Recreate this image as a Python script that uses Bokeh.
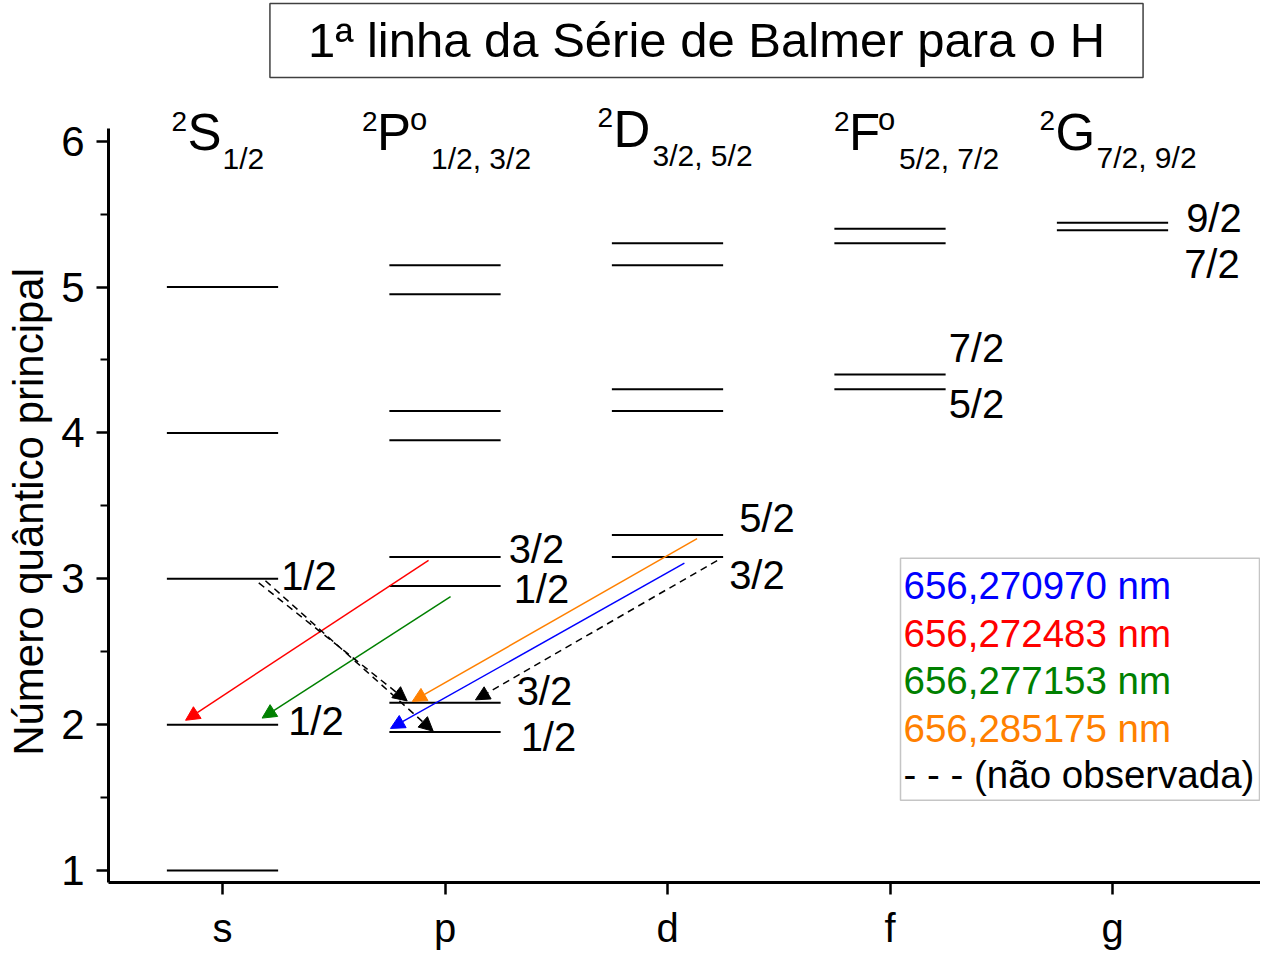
import math
from bokeh.plotting import figure
from bokeh.layouts import row
from bokeh.models import (Range1d, FixedTicker, ColumnDataSource, Arrow, NormalHead,
                          Label, BoxAnnotation)
from bokeh.core.properties import value
from bokeh.embed import file_html
from bokeh.resources import INLINE

FONT = "Liberation Sans"

# ---------------- data ----------------
title_text = "1ª linha da Série de Balmer para o H"
y_label = "Número quântico principal"
categories = ["s", "p", "d", "f", "g"]
y_ticks = [1, 2, 3, 4, 5, 6]
y_minor_ticks = [1.5, 2.5, 3.5, 4.5, 5.5]

# energy levels (position on the principal-quantum-number axis) per column
s_levels = [1.00, 2.00, 3.00, 4.00, 5.00]
p_levels = [1.95, 2.15, 2.95, 3.15, 3.95, 4.15, 4.95, 5.15]
d_levels = [3.15, 3.30, 4.15, 4.30, 5.15, 5.30]
f_levels = [4.30, 4.40, 5.30, 5.40]
g_levels = [5.39, 5.44]
levels = {"s": s_levels, "p": p_levels, "d": d_levels, "f": f_levels, "g": g_levels}

# term symbols at the top of every column
term_mult = ["2", "2", "2", "2", "2"]
term_letter = ["S", "P", "D", "F", "G"]
term_parity = ["", "o", "", "o", ""]
term_j = ["1/2", "1/2, 3/2", "3/2, 5/2", "5/2, 7/2", "7/2, 9/2"]

# J labels next to levels
j_col = ["s", "s", "p", "p", "p", "p", "d", "d", "f", "f", "g", "g"]
j_level = [3.00, 2.00, 3.15, 2.95, 2.15, 1.95, 3.30, 3.15, 4.40, 4.30, 5.44, 5.39]
j_text = ["1/2", "1/2", "3/2", "1/2", "3/2", "1/2", "5/2", "3/2", "7/2", "5/2", "9/2", "7/2"]

# transitions (x in column units, y in n units)
blue_arrow = dict(x0=[3.076], y0=[3.107], x1=[1.755], y1=[1.974])
red_arrow = dict(x0=[1.926], y0=[3.127], x1=[0.834], y1=[2.030])
green_arrow = dict(x0=[2.025], y0=[2.877], x1=[1.178], y1=[2.045])
orange_arrow = dict(x0=[3.133], y0=[3.276], x1=[1.853], y1=[2.159])
dashed_arrows = dict(x0=[3.223, 1.163, 1.193], y0=[3.125, 2.972, 2.987],
                     x1=[2.137, 1.830, 1.947], y1=[2.170, 2.163, 1.955])

legend_labels = ["656,270970 nm", "656,272483 nm", "656,277153 nm",
                 "656,285175 nm", "- - - (não observada)"]
BLUE, RED, GREEN, ORANGE, BLACK = "#0000FF", "#FF0000", "#008000", "#FF8000", "#000000"
legend_colors = [BLUE, RED, GREEN, ORANGE, BLACK]

# ---------------- layout ----------------
W, H = 1260, 952
LW = 56                          # width of the strip that holds the y-axis title
ML, MB = 108, 68                 # frame left (page px) and bottom border
SX, SY = 222.5, 146.2            # px per unit
X1_PX, Y6_PX = 222, 141          # where x=1 and y=6 sit
x_start = 1 - (X1_PX - ML) / SX
x_end = x_start + (W - ML) / SX
y_end = 6 + Y6_PX / SY
y_start = y_end - (H - MB) / SY
K = SY / 147.6


def px(fx):
    return x_start + (fx - ML) / SX


def fig_y(ref_y):
    return Y6_PX + (ref_y - 143) * K


def py(ref_y):
    return y_end - fig_y(ref_y) / SY


# ---- y-axis title strip ----
lab = figure(width=LW, height=H, x_range=Range1d(0, LW), y_range=Range1d(0, H),
             output_backend="svg", toolbar_location=None,
             x_axis_location=None, y_axis_location=None,
             min_border_left=0, min_border_right=0, min_border_top=0, min_border_bottom=0)
lab.outline_line_color = None
lab.grid.visible = False
lab.text(x=[28], y=[400], text=[y_label], angle=[math.pi / 2],
         text_font=value(FONT), text_font_size="42px", text_color="black",
         text_align="center", text_baseline="middle")

# ---- main plot ----
p = figure(width=W - LW, height=H, x_range=Range1d(x_start, x_end), y_range=Range1d(y_start, y_end),
           output_backend="svg", toolbar_location=None,
           min_border_left=ML - LW, min_border_right=0, min_border_top=0, min_border_bottom=MB)
p.outline_line_color = None
p.xgrid.visible = False
p.ygrid.visible = False
p.background_fill_color = "white"

for ax in (p.xaxis[0], p.yaxis[0]):
    ax.axis_line_width = 3
    ax.major_tick_line_width = 2.5
    ax.minor_tick_line_width = 2
    ax.major_tick_in = 0
    ax.major_tick_out = 12
    ax.minor_tick_in = 0
    ax.minor_tick_out = 8
    ax.major_label_text_font = FONT
    ax.major_label_text_color = "black"
    ax.axis_line_color = "black"
    ax.major_tick_line_color = "black"
    ax.minor_tick_line_color = "black"

p.xaxis.major_label_text_font_size = "40px"
p.yaxis.major_label_text_font_size = "42px"
p.xaxis.ticker = FixedTicker(ticks=[1, 2, 3, 4, 5], minor_ticks=[])
p.xaxis.major_label_overrides = {i + 1: c for i, c in enumerate(categories)}
p.xaxis.major_label_standoff = 11

p.yaxis.ticker = FixedTicker(ticks=y_ticks, minor_ticks=y_minor_ticks)
p.yaxis.bounds = (y_start, 6.088)
p.yaxis.major_label_standoff = 12

# ---------------- energy levels ----------------
HALF = 0.25
lx0, lx1, ly = [], [], []
for i, c in enumerate(categories):
    for lev in levels[c]:
        lx0.append(i + 1 - HALF)
        lx1.append(i + 1 + HALF)
        ly.append(lev)
p.segment(x0=lx0, y0=ly, x1=lx1, y1=ly, line_color="black", line_width=2)

# J labels
j_dx = [3, 10, 8, 13, 16, 20, 16, 6, 3, 3, 18, 16]
j_dy = [-3, -4, -8, 3, -12, 5, -17, 18, -27, 15, -5, 34]
jx = [categories.index(c) + 1 + HALF for c in j_col]
p.text(x=jx, y=j_level, text=j_text, x_offset=j_dx, y_offset=j_dy,
       text_font=value(FONT), text_font_size="40px", text_color="black",
       text_align="left", text_baseline="middle")

# term symbols (glyph centres, reference px)
cols = [i + 1 for i in range(len(categories))]
sup_dx = [-51, -83, -70, -56, -73]
main_dx = [-35, -68, -54, -41, -57]
sub_dx = [0, -14, -15, 9, -16]
sup_c = [123, 123, 119, 123, 122]
main_c = [134, 134, 131, 134, 134]
sub_c = [161, 161, 157, 161, 160]
par_dx = [-35, -12]
par_c = [121, 121]
p.text(x=cols, y=[py(c) for c in sup_c], text=term_mult, x_offset=sup_dx,
       text_font=value(FONT), text_font_size="28px", text_align="left", text_baseline="middle")
p.text(x=cols, y=[py(c) for c in main_c], text=term_letter, x_offset=main_dx,
       text_font=value(FONT), text_font_size="51px", text_align="left", text_baseline="middle")
p.text(x=cols, y=[py(c) for c in sub_c], text=term_j, x_offset=sub_dx,
       text_font=value(FONT), text_font_size="30px", text_align="left", text_baseline="middle")
par_cols = [c for c, t in zip(cols, term_parity) if t]
par_txt = [t for t in term_parity if t]
p.text(x=par_cols, y=[py(c) for c in par_c], text=par_txt, x_offset=par_dx,
       text_font=value(FONT), text_font_size="31px", text_align="left", text_baseline="middle")

# ---------------- transitions ----------------
def add_arrow(data, color, dash="solid"):
    src = ColumnDataSource(data)
    p.add_layout(Arrow(x_start="x0", y_start="y0", x_end="x1", y_end="y1", source=src,
                       line_color=color, line_width=1.5, line_dash=dash,
                       end=NormalHead(size=14, fill_color=color, line_color=color, line_width=1)))


add_arrow(red_arrow, RED)
add_arrow(green_arrow, GREEN)
add_arrow(orange_arrow, ORANGE)
add_arrow(blue_arrow, BLUE)
add_arrow(dashed_arrows, BLACK, "7 5")

# ---------------- legend ----------------
p.add_layout(BoxAnnotation(left=px(900), right=px(1259), top=py(565), bottom=py(810),
                           fill_color=None, line_color="#404040", line_width=1.5))
rows = [593, 641, 689, 737, 784]
p.text(x=[px(903)] * 5, y=[py(r) for r in rows], text=legend_labels, text_color=legend_colors,
       text_font=value(FONT), text_font_size="38.5px", text_align="left", text_baseline="middle")

# ---------------- title ----------------
p.add_layout(Label(x=px(706), y=py(41), text=title_text, text_font=FONT, text_font_size="49px",
                   text_align="center", text_baseline="middle", text_color="black",
                   background_fill_color="white", border_line_color="#404040", border_line_width=1.5,
                   padding=dict(left=38, right=38, top=10, bottom=10)))

layout = row(lab, p, spacing=0)
open("out.html", "w").write(file_html(layout, INLINE))
